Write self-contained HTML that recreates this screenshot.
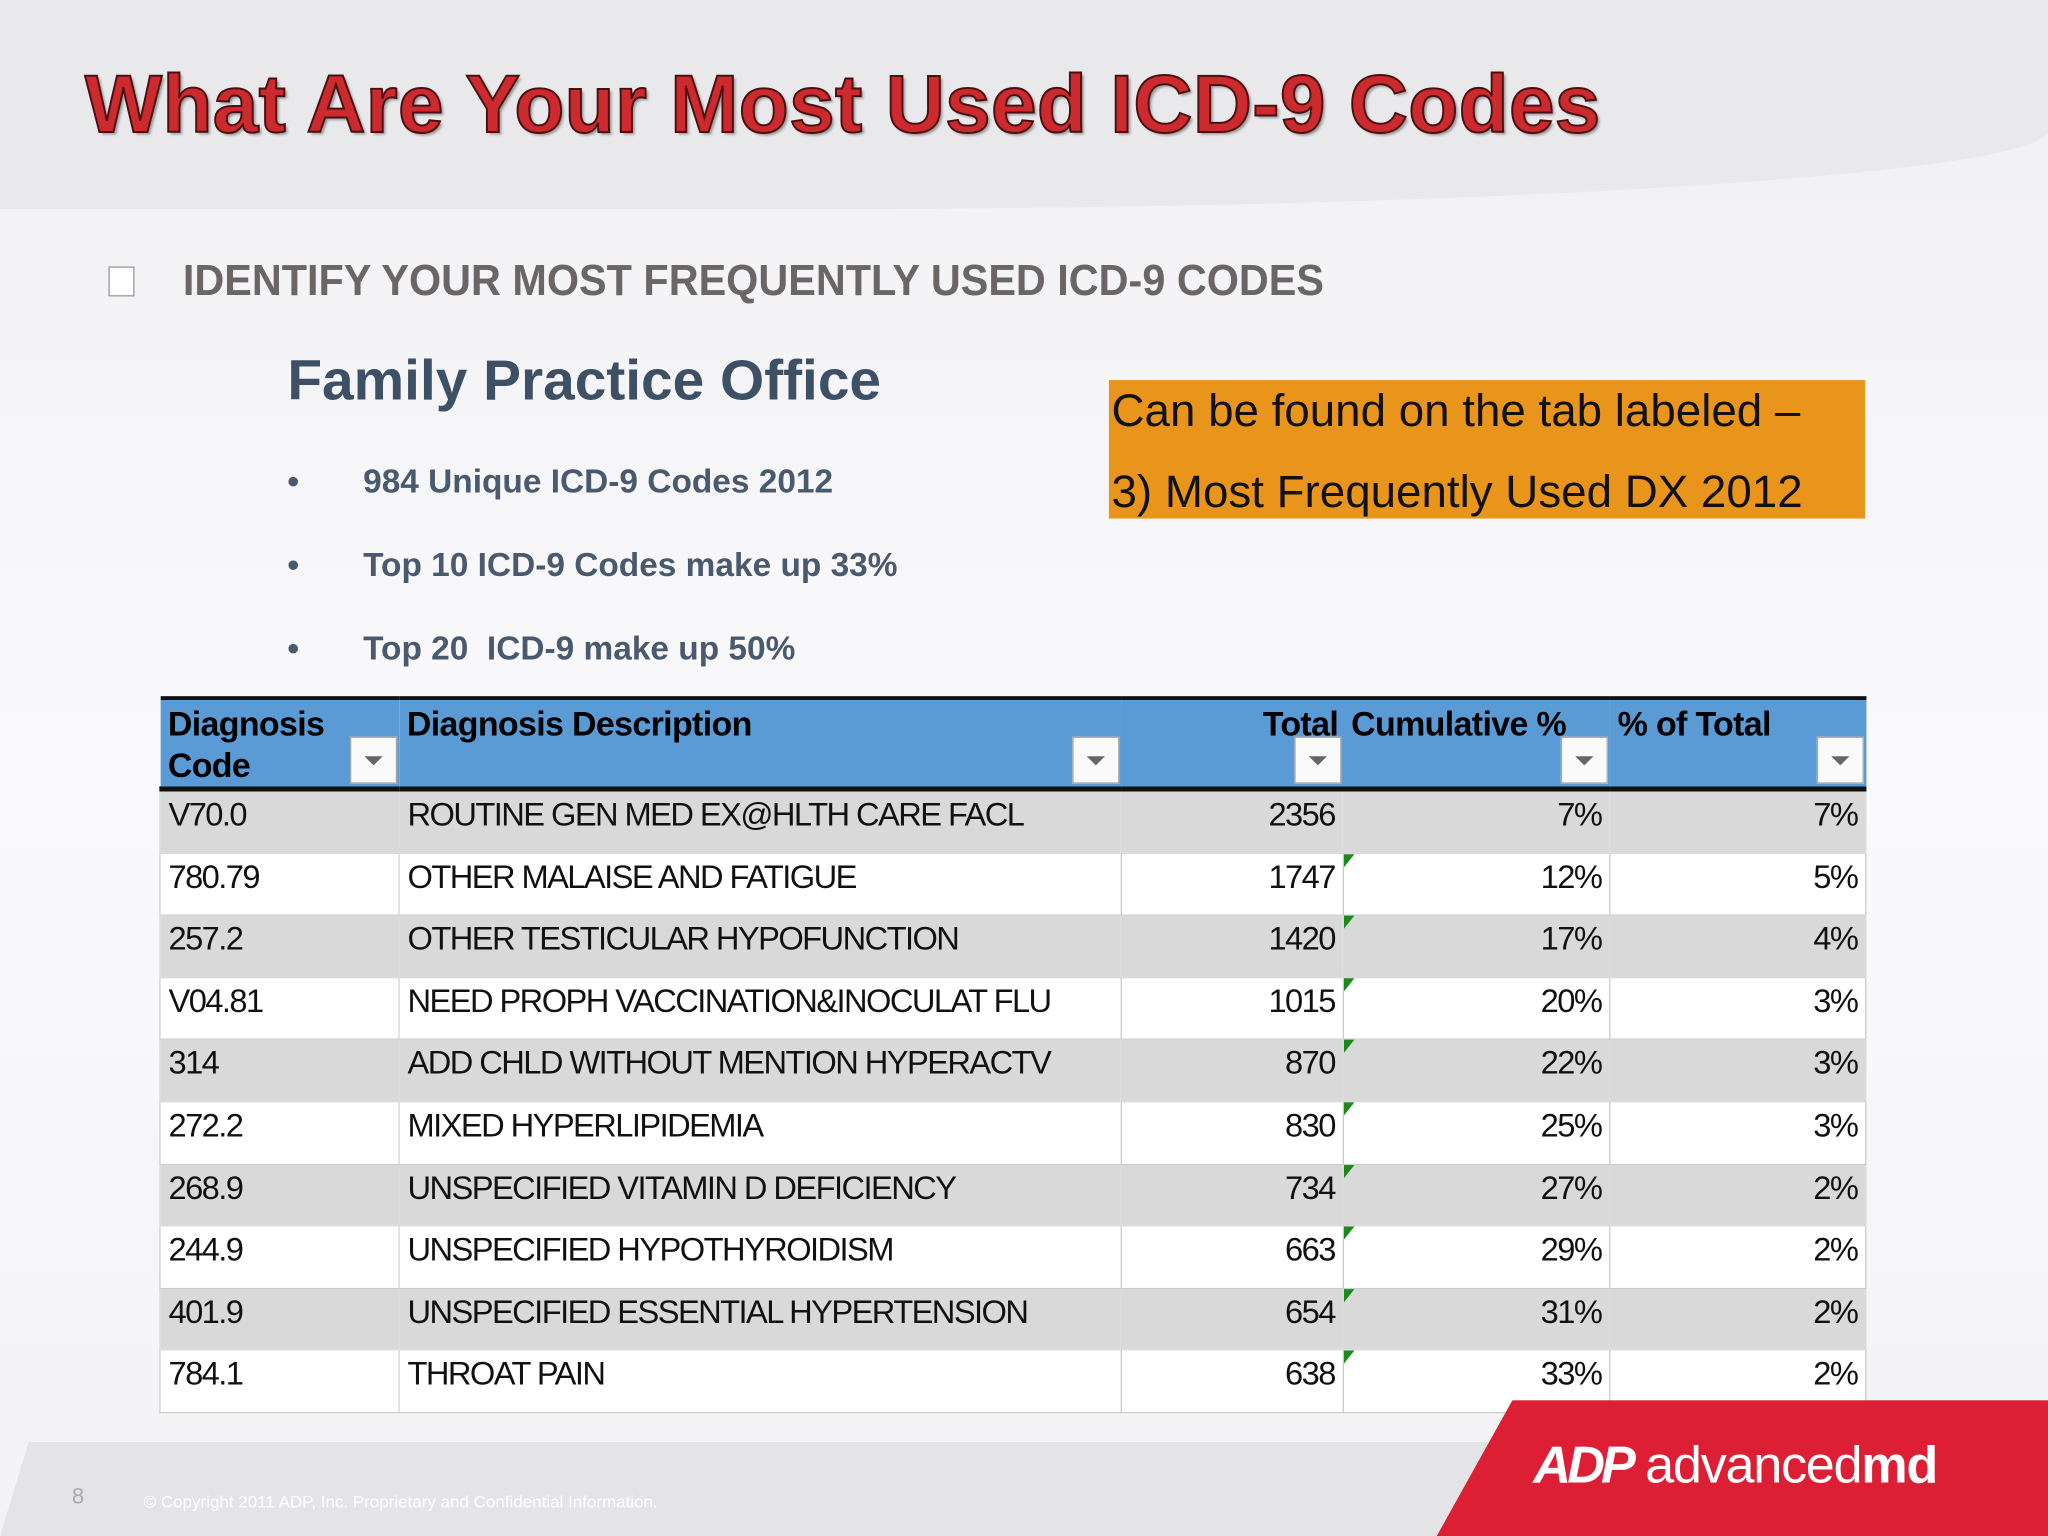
<!DOCTYPE html>
<html><head><meta charset="utf-8">
<style>
html,body{margin:0;padding:0;width:2048px;height:1536px;overflow:hidden;background:#f4f4f6;}
#s{position:absolute;left:0;top:0;width:1568px;height:1176px;transform:scale(1.306122);transform-origin:0 0;font-family:"Liberation Sans",sans-serif;background:linear-gradient(#f0f0f2,#fafafc 50%,#f3f3f5);overflow:hidden;}
.abs{position:absolute;}
#top{left:0;top:0;width:1568px;height:160px;background:#e9e9eb;border-radius:0 0 60% 0/0 0 60px 0;}
#title{left:65px;top:44px;font-size:62.6px;font-weight:bold;color:#cc2a2e;-webkit-text-stroke:1.5px #4a1010;text-shadow:2px 2px 2px rgba(0,0,0,.35);white-space:nowrap;letter-spacing:0.3px}
#cb{left:83px;top:204px;width:18px;height:21px;border:1px solid #999;background:#fff;}
#h2{left:140px;top:196px;font-size:33px;font-weight:bold;color:#6b6666;white-space:nowrap;transform:scaleX(.96);transform-origin:0 0;}
#fpo{left:220px;top:268px;font-size:43.5px;font-weight:bold;color:#3d5066;white-space:nowrap}
.bul{left:220px;font-size:25.6px;font-weight:bold;color:#4a5a6e;white-space:nowrap}
.bul span{position:absolute;left:58px}
#org{left:849px;top:291px;width:579px;height:106px;background:#e9951b;}
#org div{position:absolute;left:2px;font-size:35px;color:#111;white-space:nowrap}
table{position:absolute;left:122px;top:533px;border-collapse:collapse;width:1306px;table-layout:fixed;font-size:25px;}
th{background:#5b9bd5;height:64px;border-top:3px solid #111;border-bottom:4px solid #111;text-align:left;vertical-align:top;font-weight:bold;font-size:26px;padding:2px 6px 0;line-height:32px;position:relative;letter-spacing:-0.5px}
td{height:46.6px;padding:0 6px;vertical-align:top;line-height:36px;white-space:nowrap;letter-spacing:-1.2px;color:#111;position:relative;}
tr.g td{background:#d9d9d9;border:1px solid #d9d9d9}
tr.w td{background:#fff;border:1px solid #ccc;border-top:none}
.r{text-align:right}
.dd{position:absolute;bottom:2px;right:2px;width:34px;height:34px;background:#fafafa;border:1px solid #aaa;}
.dd:after{content:"";position:absolute;left:10px;top:14px;border-left:7px solid transparent;border-right:7px solid transparent;border-top:7px solid #666}
.tri{position:absolute;left:0;top:0;width:0;height:0;border-top:10px solid #1a8a1a;border-right:8px solid transparent}
#foot{left:0;top:1104px;width:1568px;height:72px;background:#e4e4e6;clip-path:polygon(22px 0,100% 0,100% 100%,0 100%);}
#red{left:1100px;top:1072px;width:468px;height:104px;background:#dc1f35;clip-path:polygon(58px 0,100% 0,100% 100%,0 100%);}
#logo{left:1174px;top:1100px;color:#fff;font-size:40px;white-space:nowrap;letter-spacing:-1px}
#pg{left:55px;top:1136px;color:#aaa;font-size:17px}
#copy{left:110px;top:1142px;color:#fff;font-size:13px;white-space:nowrap}
</style></head><body>
<div id="s">
<div id="top" class="abs"></div>
<div id="title" class="abs">What Are Your Most Used ICD-9 Codes</div>
<div id="cb" class="abs"></div>
<div id="h2" class="abs">IDENTIFY YOUR MOST FREQUENTLY USED ICD-9 CODES</div>
<div id="fpo" class="abs">Family Practice Office</div>
<div class="abs bul" style="top:355px">•<span>984 Unique ICD-9 Codes 2012</span></div>
<div class="abs bul" style="top:419px">•<span>Top 10 ICD-9 Codes make up 33%</span></div>
<div class="abs bul" style="top:483px">•<span>Top 20&nbsp; ICD-9 make up 50%</span></div>
<div id="org" class="abs">
<div style="top:4px">Can be found on the tab labeled –</div>
<div style="top:66px">3) Most Frequently Used DX 2012</div>
</div>
<table>
<colgroup><col style="width:183px"><col style="width:553px"><col style="width:170px"><col style="width:204px"><col style="width:196px"></colgroup>
<thead><tr>
<th>Diagnosis<br>Code<div class="dd"></div></th>
<th>Diagnosis Description<div class="dd"></div></th>
<th class="r" style="padding-right:4px">Total<div class="dd"></div></th>
<th style="white-space:nowrap">Cumulative %<div class="dd"></div></th>
<th>% of Total<div class="dd"></div></th>
</tr></thead>
<tbody id="tb"></tbody>
</table>
<div id="foot" class="abs"></div>
<div id="red" class="abs"></div>
<div id="logo" class="abs"><b style="font-style:italic;letter-spacing:-3px">ADP</b> advanced<b>md</b></div>
<div id="pg" class="abs">8</div>
<div id="copy" class="abs">© Copyright 2011 ADP, Inc. Proprietary and Confidential Information.</div>
</div>
<script>
const codes=["V70.0","780.79","257.2","V04.81","314","272.2","268.9","244.9","401.9","784.1"];
const descs=["ROUTINE GEN MED EX@HLTH CARE FACL","OTHER MALAISE AND FATIGUE","OTHER TESTICULAR HYPOFUNCTION","NEED PROPH VACCINATION&INOCULAT FLU","ADD CHLD WITHOUT MENTION HYPERACTV","MIXED HYPERLIPIDEMIA","UNSPECIFIED VITAMIN D DEFICIENCY","UNSPECIFIED HYPOTHYROIDISM","UNSPECIFIED ESSENTIAL HYPERTENSION","THROAT PAIN"];
const totals=[2356,1747,1420,1015,870,830,734,663,654,638];
const cumul=[7,12,17,20,22,25,27,29,31,33];
const pct=[7,5,4,3,3,3,2,2,2,2];
const tb=document.getElementById('tb');
for(let i=0;i<codes.length;i++){
  const tr=document.createElement('tr');
  tr.className=i%2?'w':'g';
  
  
  const vals=[codes[i],descs[i],totals[i],cumul[i]+'%',pct[i]+'%'];
  vals.forEach((v,j)=>{
    const td=document.createElement('td');
    
    
    if(j>=2)td.className='r';
    td.textContent=v;
    if(j===3&&i>0){const t=document.createElement('div');t.className='tri';
      
      
      td.appendChild(t);}
    tr.appendChild(td);
  });
  tb.appendChild(tr);
}
</script>
</body></html>
